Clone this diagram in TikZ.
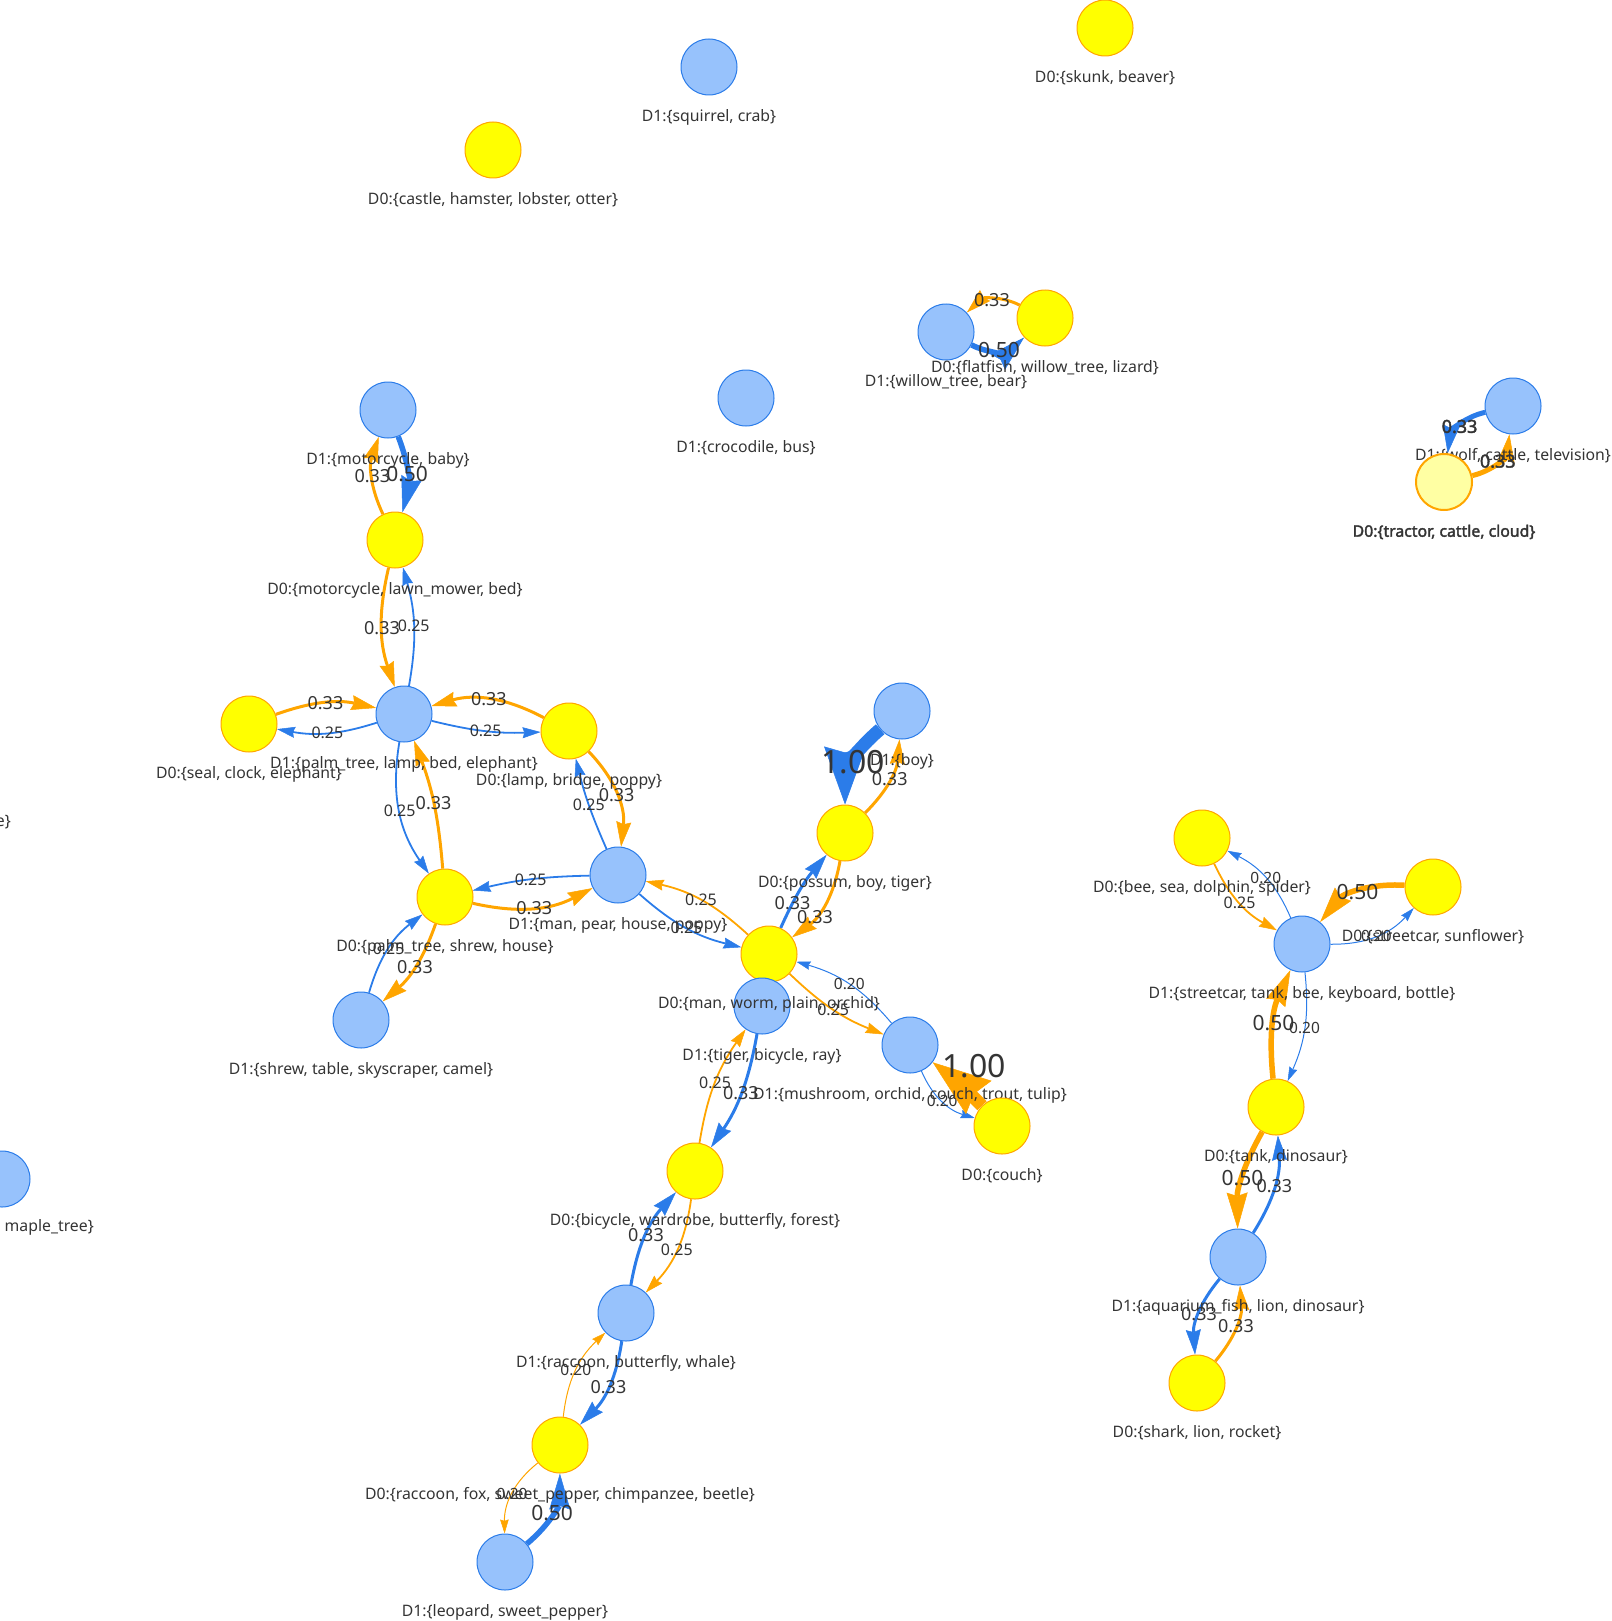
\documentclass[tikz,border=0pt]{standalone}
\usepackage{fontspec}
\setmainfont{Noto Sans}
\newfontfamily\heavyfont{Noto Sans}[FakeBold=2.2]
\usepackage{tikz}
\usetikzlibrary{arrows.meta,positioning}
\definecolor{nodeblue}{HTML}{97C2FC}
\definecolor{edgeblue}{HTML}{2B7CE9}
\definecolor{nodeyellow}{HTML}{FFFF00}
\definecolor{edgeorange}{HTML}{FFA500}
\definecolor{paleyellow}{HTML}{FFFFA3}
\definecolor{textgray}{HTML}{343434}
\pgfdeclarelayer{edgelayer}
\pgfsetlayers{edgelayer,main}
\tikzset{
	dzero/.style={circle, draw=edgeorange, fill=nodeyellow, line width=1pt, minimum size=56pt, inner sep=0pt},
	done/.style={circle, draw=edgeblue, fill=nodeblue, line width=1pt, minimum size=56pt, inner sep=0pt},
	picked/.style={dzero, fill=paleyellow, line width=2pt},
	caption/.style={text=textgray, font=\fontsize{15.8}{16}\selectfont, inner sep=0pt},
	cap/.style={label={[caption]below:#1}},
	boldcap/.style={label={[caption, font=\heavyfont\fontsize{15.8}{16}\selectfont]below:#1}},
	toone/.style={draw=edgeorange},
	tozero/.style={draw=edgeblue},
	wfifth/.style={line width=1pt, -{Stealth[length=14pt, width=8.5pt, inset=1.4pt, line width=0.5pt]},
			nodes={text=textgray, font=\fontsize{15.5}{16}\selectfont}},
	wquarter/.style={line width=1.8pt, -{Stealth[length=18pt, width=11pt, inset=1.8pt, line width=0.5pt]},
			nodes={text=textgray, font=\fontsize{16}{16}\selectfont}},
	wthird/.style={line width=3pt, -{Stealth[length=25pt, width=15pt, inset=2.5pt, line width=0.5pt]},
			nodes={text=textgray, font=\fontsize{18}{18}\selectfont}},
	whalf/.style={line width=5.5pt, -{Stealth[length=36pt, width=21pt, inset=3.6pt, line width=0.5pt]},
			nodes={text=textgray, font=\fontsize{21}{21}\selectfont}},
	wpicked/.style={line width=5pt, -{Stealth[length=28pt, width=17pt, inset=2.8pt, line width=0.5pt]},
			nodes={text=textgray, font=\heavyfont\fontsize{18}{18}\selectfont}},
	wfull/.style={line width=13pt, -{Stealth[length=58pt, width=42pt, inset=6pt, line width=0.5pt]},
			nodes={text=textgray, font=\fontsize{32}{32}\selectfont}}
}

\begin{document}
\begin{tikzpicture}[x=1pt, y=-1pt, label distance=13.5pt]
	\useasboundingbox (0,0) rectangle (1611,1621);

	\node[dzero, cap={D0:\{skunk, beaver\}}] (skunk) at (1105, 28) {};
	\node[done, cap={D1:\{squirrel, crab\}}] (squirrel) at (709, 67) {};
	\node[dzero, cap={D0:\{castle, hamster, lobster, otter\}}] (castle) at (493, 150) {};
	\node[done, cap={D1:\{willow\_tree, bear\}}] (willow) at (946, 332) {};
	\node[dzero, cap={D0:\{flatfish, willow\_tree, lizard\}}] (flatfish) at (1045, 318) {};
	\node[done, cap={D1:\{crocodile, bus\}}] (crocodile) at (746, 398) {};
	\node[done, cap={D1:\{wolf, cattle, television\}}] (wolf) at (1513, 406) {};
	\node[picked, boldcap={D0:\{tractor, cattle, cloud\}}] (tractor) at (1444, 482) {};

	\node[done, cap={D1:\{motorcycle, baby\}}] (motoone) at (388, 410) {};
	\node[dzero, cap={D0:\{motorcycle, lawn\_mower, bed\}}] (motozero) at (395, 540) {};
	\node[done, cap={D1:\{palm\_tree, lamp, bed, elephant\}}] (palmone) at (404, 714) {};
	\node[dzero, cap={D0:\{seal, clock, elephant\}}] (seal) at (249, 724) {};
	\node[dzero, cap={D0:\{lamp, bridge, poppy\}}] (lamp) at (569, 731) {};
	\node[dzero, cap={D0:\{palm\_tree, shrew, house\}}] (palmzero) at (445, 897) {};
	\node[done, cap={D1:\{man, pear, house, poppy\}}] (manone) at (618, 875) {};
	\node[done, cap={D1:\{shrew, table, skyscraper, camel\}}] (shrew) at (361, 1020) {};

	\node[done, cap={D1:\{boy\}}] (boy) at (902, 711) {};
	\node[dzero, cap={D0:\{possum, boy, tiger\}}] (possum) at (845, 833) {};
	\node[dzero] (manzero) at (769, 954) {};
	\node[done, cap={D1:\{tiger, bicycle, ray\}}] (tiger) at (762, 1006) {};
	\node[caption, below=13.5pt of manzero] (manzerocap) {D0:\{man, worm, plain, orchid\}};
	\node[done, cap={D1:\{mushroom, orchid, couch, trout, tulip\}}] (mushroom) at (910, 1045) {};
	\node[dzero, cap={D0:\{couch\}}] (couch) at (1002, 1126) {};
	\node[dzero, cap={D0:\{bicycle, wardrobe, butterfly, forest\}}] (bicycle) at (695, 1171) {};
	\node[done, cap={D1:\{raccoon, butterfly, whale\}}] (raccoonone) at (626, 1313) {};
	\node[dzero, cap={D0:\{raccoon, fox, sweet\_pepper, chimpanzee, beetle\}}] (raccoonzero) at (560, 1445) {};
	\node[done, cap={D1:\{leopard, sweet\_pepper\}}] (leopard) at (505, 1562) {};

	\node[dzero, cap={D0:\{bee, sea, dolphin, spider\}}] (bee) at (1202, 838) {};
	\node[dzero, cap={D0:\{streetcar, sunflower\}}] (streetzero) at (1433, 887) {};
	\node[done, cap={D1:\{streetcar, tank, bee, keyboard, bottle\}}] (streetone) at (1302, 944) {};
	\node[dzero, cap={D0:\{tank, dinosaur\}}] (tank) at (1276, 1107) {};
	\node[done, cap={D1:\{aquarium\_fish, lion, dinosaur\}}] (aquarium) at (1238, 1257) {};
	\node[dzero, cap={D0:\{shark, lion, rocket\}}] (shark) at (1197, 1383) {};

	\node[done] (maple) at (2, 1179) {};
	\node[caption, anchor=base east] (maplecap) at (94, 1231) {maple\_tree\}};
	\node[caption, anchor=base east] (leftcap) at (11, 826) {e\}};

	\begin{pgfonlayer}{edgelayer}
		\draw[tozero, whalf] (motoone) to[bend left=18] node{0.50} (motozero);
		\draw[toone, wthird] (motozero) to[bend left=22] node{0.33} (motoone);
		\draw[toone, wthird] (motozero) to[bend right=16] node{0.33} (palmone);
		\draw[tozero, wquarter] (palmone) to[bend right=13] node{0.25} (motozero);
		\draw[toone, wthird] (seal) to[bend left=16] node{0.33} (palmone);
		\draw[tozero, wquarter] (palmone) to[bend left=14] node{0.25} (seal);
		\draw[toone, wthird] (lamp) to[bend right=22] node{0.33} (palmone);
		\draw[tozero, wquarter] (palmone) to[bend right=8] node{0.25} (lamp);
		\draw[tozero, wquarter] (palmone) to[bend right=22] node{0.25} (palmzero);
		\draw[toone, wthird] (palmzero) to[bend right=8] node{0.33} (palmone);
		\draw[tozero, wquarter] (manone) to[bend right=6] node{0.25} (palmzero);
		\draw[toone, wthird] (palmzero) to[bend right=20] node{0.33} (manone);
		\draw[tozero, wquarter] (manone) to[bend left=5] node{0.25} (lamp);
		\draw[toone, wthird] (lamp) to[bend left=25] node{0.33} (manone);
		\draw[tozero, wquarter] (shrew) to[bend left=18] node{0.25} (palmzero);
		\draw[toone, wthird] (palmzero) to[bend left=15] node{0.33} (shrew);
		\draw[tozero, wquarter] (manone) to[bend right=14] node{0.25} (manzero);
		\draw[toone, wquarter] (manzero) to[bend right=15] node{0.25} (manone);
		\draw[tozero, wthird] (manzero) to[bend left=8] node[pos=0.3]{0.33} (possum);
		\draw[toone, wthird] (possum) to[bend left=22] node[pos=0.68]{0.33} (manzero);
		\draw[tozero, wfull] (boy) to[bend right=25] node{1.00} (possum);
		\draw[toone, wthird] (possum) to[bend right=20] node{0.33} (boy);
		\draw[tozero, wfifth] (mushroom) to[bend right=17] node{0.20} (manzero);
		\draw[toone, wquarter] (manzero) to[bend right=11] node{0.25} (mushroom);
		\draw[tozero, wfifth] (mushroom) to[bend right=25] node{0.20} (couch);
		\draw[toone, wfull] (couch) to[bend right=4] node[xshift=16pt, yshift=17pt]{1.00} (mushroom);
		\draw[tozero, wthird] (tiger) to[bend left=12] node{0.33} (bicycle);
		\draw[toone, wquarter] (bicycle) to[bend left=13] node{0.25} (tiger);
		\draw[tozero, wthird] (raccoonone) to[bend left=16] node{0.33} (bicycle);
		\draw[toone, wquarter] (bicycle) to[bend left=18] node{0.25} (raccoonone);
		\draw[toone, wfifth] (raccoonzero) to[bend left=20] node{0.20} (raccoonone);
		\draw[tozero, wthird] (raccoonone) to[bend left=18] node{0.33} (raccoonzero);
		\draw[tozero, whalf] (leopard) to[bend right=25] node{0.50} (raccoonzero);
		\draw[toone, wfifth] (raccoonzero) to[bend right=26] node{0.20} (leopard);

		\draw[tozero, wfifth] (streetone) to[bend right=20] node{0.20} (bee);
		\draw[toone, wquarter] (bee) to[bend right=18] node{0.25} (streetone);
		\draw[toone, whalf] (streetzero) to[bend right=27] node{0.50} (streetone);
		\draw[tozero, wfifth] (streetone) to[bend right=24] node{0.20} (streetzero);
		\draw[toone, whalf] (tank) to[bend left=15] node{0.50} (streetone);
		\draw[tozero, wfifth] (streetone) to[bend left=15] node{0.20} (tank);
		\draw[toone, whalf] (tank) to[bend right=15] node{0.50} (aquarium);
		\draw[tozero, wthird] (aquarium) to[bend right=18] node{0.33} (tank);
		\draw[tozero, wthird] (aquarium) to[bend right=22] node{0.33} (shark);
		\draw[toone, wthird] (shark) to[bend right=22] node{0.33} (aquarium);

		\draw[toone, wthird] (flatfish) to[bend right=35] node{0.33} (willow);
		\draw[tozero, whalf] (willow) to[bend right=35] node{0.50} (flatfish);
		\draw[tozero, wpicked] (wolf) to[bend right=35] node{0.33} (tractor);
		\draw[toone, wpicked] (tractor) to[bend right=35] node{0.33} (wolf);
	\end{pgfonlayer}
\end{tikzpicture}
\end{document}
